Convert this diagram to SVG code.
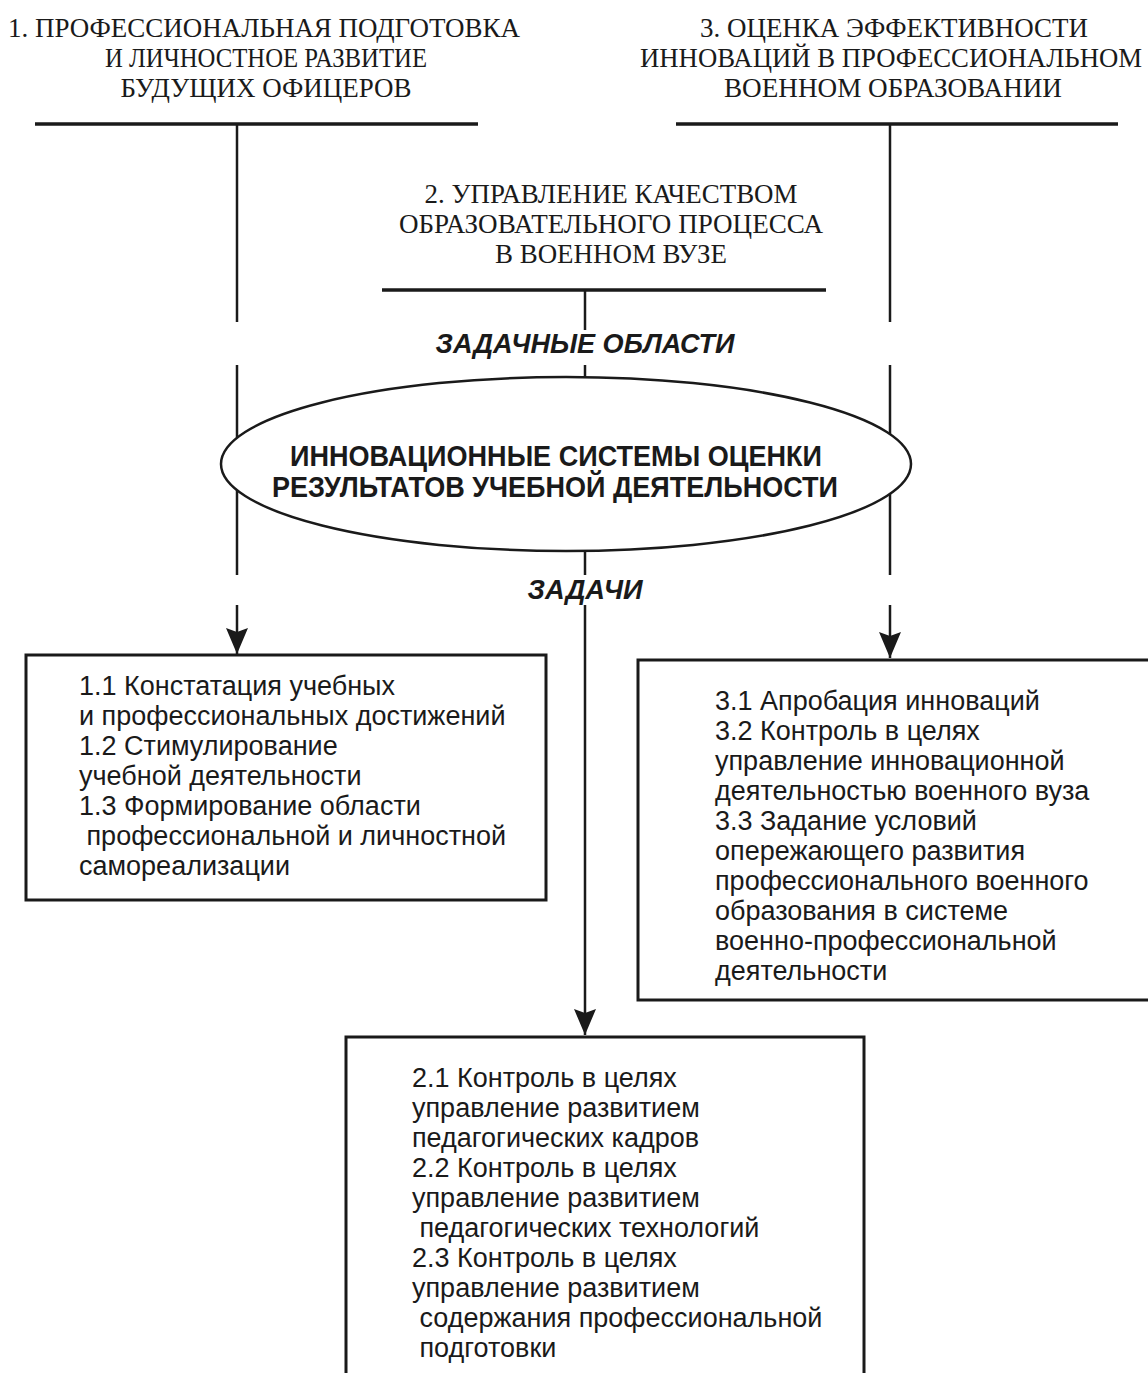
<svg xmlns="http://www.w3.org/2000/svg" width="1148" height="1373" viewBox="0 0 1148 1373">
<style>
.hdr{font-family:"Liberation Serif","Times New Roman",serif;font-size:27px;fill:#1a1a1a;text-anchor:middle}
.lbl{font-family:"Liberation Sans",Arial,sans-serif;font-size:27px;font-weight:bold;font-style:italic;fill:#1a1a1a;text-anchor:middle}
.ell{font-family:"Liberation Sans",Arial,sans-serif;font-size:29px;font-weight:bold;fill:#1a1a1a;text-anchor:middle}
.body{font-family:"Liberation Sans",Arial,sans-serif;font-size:27px;fill:#1a1a1a}
.bar{stroke:#1a1a1a;stroke-width:3.5;fill:none}
.ln{stroke:#1a1a1a;stroke-width:2.5;fill:none}
.box{stroke:#1a1a1a;stroke-width:3;fill:#fff}
</style>
<defs>
<marker id="ah" viewBox="0 0 26 22" refX="26" refY="11" markerWidth="26" markerHeight="22" markerUnits="userSpaceOnUse" orient="auto">
<path d="M0,0 L26,11 L0,22 L4,11 Z" fill="#1a1a1a"/>
</marker>
</defs>
<rect width="1148" height="1373" fill="#fff"/>

<g id="area1">
<text class="hdr" x="264" y="37" textLength="512" lengthAdjust="spacingAndGlyphs">1. ПРОФЕССИОНАЛЬНАЯ ПОДГОТОВКА</text>
<text class="hdr" x="266" y="67" textLength="322" lengthAdjust="spacingAndGlyphs">И ЛИЧНОСТНОЕ РАЗВИТИЕ</text>
<text class="hdr" x="266" y="97" textLength="291" lengthAdjust="spacingAndGlyphs">БУДУЩИХ ОФИЦЕРОВ</text>
<line class="bar" x1="35" y1="124" x2="478" y2="124"/>
</g>

<g id="area2">
<text class="hdr" x="611" y="203" textLength="373" lengthAdjust="spacingAndGlyphs">2. УПРАВЛЕНИЕ КАЧЕСТВОМ</text>
<text class="hdr" x="611" y="233" textLength="424" lengthAdjust="spacingAndGlyphs">ОБРАЗОВАТЕЛЬНОГО ПРОЦЕССА</text>
<text class="hdr" x="611" y="263" textLength="232" lengthAdjust="spacingAndGlyphs">В ВОЕННОМ ВУЗЕ</text>
<line class="bar" x1="382" y1="290" x2="826" y2="290"/>
</g>

<g id="area3">
<text class="hdr" x="894" y="37" textLength="388" lengthAdjust="spacingAndGlyphs">3. ОЦЕНКА ЭФФЕКТИВНОСТИ</text>
<text class="hdr" x="891" y="67" textLength="502" lengthAdjust="spacingAndGlyphs">ИННОВАЦИЙ В ПРОФЕССИОНАЛЬНОМ</text>
<text class="hdr" x="893" y="97" textLength="338" lengthAdjust="spacingAndGlyphs">ВОЕННОМ ОБРАЗОВАНИИ</text>
<line class="bar" x1="676" y1="124" x2="1118" y2="124"/>
</g>

<g id="connectors">
<line class="ln" x1="237" y1="124" x2="237" y2="322"/>
<line class="ln" x1="890" y1="124" x2="890" y2="322"/>
<line class="ln" x1="585" y1="290" x2="585" y2="330"/>
<line class="ln" x1="237" y1="365" x2="237" y2="575"/>
<line class="ln" x1="890" y1="365" x2="890" y2="575"/>
<line class="ln" x1="585" y1="365" x2="585" y2="378"/>
<line class="ln" x1="585" y1="550" x2="585" y2="575"/>
<line class="ln" x1="237" y1="605" x2="237" y2="654" marker-end="url(#ah)"/>
<line class="ln" x1="890" y1="605" x2="890" y2="658" marker-end="url(#ah)"/>
<line class="ln" x1="585" y1="605" x2="585" y2="1035" marker-end="url(#ah)"/>
</g>

<g id="label-areas">
<text class="lbl" x="585" y="353" textLength="299" lengthAdjust="spacingAndGlyphs">ЗАДАЧНЫЕ ОБЛАСТИ</text>
</g>

<g id="center">
<ellipse cx="566" cy="464" rx="345" ry="87" fill="#fff" stroke="#1a1a1a" stroke-width="2.5"/>
<text class="ell" x="556" y="466" textLength="532" lengthAdjust="spacingAndGlyphs">ИННОВАЦИОННЫЕ СИСТЕМЫ ОЦЕНКИ</text>
<text class="ell" x="555" y="497" textLength="566" lengthAdjust="spacingAndGlyphs">РЕЗУЛЬТАТОВ УЧЕБНОЙ ДЕЯТЕЛЬНОСТИ</text>
</g>

<g id="label-tasks">
<text class="lbl" x="585" y="599" textLength="115" lengthAdjust="spacingAndGlyphs">ЗАДАЧИ</text>
</g>

<g id="box1">
<rect class="box" x="26" y="655" width="520" height="245"/>
<text class="body" x="79" y="695">1.1 Констатация учебных</text>
<text class="body" x="79" y="725">и профессиональных достижений</text>
<text class="body" x="79" y="755">1.2 Стимулирование</text>
<text class="body" x="79" y="785">учебной деятельности</text>
<text class="body" x="79" y="815">1.3 Формирование области</text>
<text class="body" x="79" y="845" xml:space="preserve"> профессиональной и личностной</text>
<text class="body" x="79" y="875">самореализации</text>
</g>

<g id="box3">
<rect class="box" x="638" y="660" width="530" height="340"/>
<text class="body" x="715" y="710">3.1 Апробация инноваций</text>
<text class="body" x="715" y="740">3.2 Контроль в целях</text>
<text class="body" x="715" y="770">управление инновационной</text>
<text class="body" x="715" y="800">деятельностью военного вуза</text>
<text class="body" x="715" y="830">3.3 Задание условий</text>
<text class="body" x="715" y="860">опережающего развития</text>
<text class="body" x="715" y="890">профессионального военного</text>
<text class="body" x="715" y="920">образования в системе</text>
<text class="body" x="715" y="950">военно-профессиональной</text>
<text class="body" x="715" y="980">деятельности</text>
</g>

<g id="box2">
<rect class="box" x="346" y="1037" width="518" height="400"/>
<text class="body" x="412" y="1087">2.1 Контроль в целях</text>
<text class="body" x="412" y="1117">управление развитием</text>
<text class="body" x="412" y="1147">педагогических кадров</text>
<text class="body" x="412" y="1177">2.2 Контроль в целях</text>
<text class="body" x="412" y="1207">управление развитием</text>
<text class="body" x="412" y="1237" xml:space="preserve"> педагогических технологий</text>
<text class="body" x="412" y="1267">2.3 Контроль в целях</text>
<text class="body" x="412" y="1297">управление развитием</text>
<text class="body" x="412" y="1327" xml:space="preserve"> содержания профессиональной</text>
<text class="body" x="412" y="1357" xml:space="preserve"> подготовки</text>
</g>
</svg>
